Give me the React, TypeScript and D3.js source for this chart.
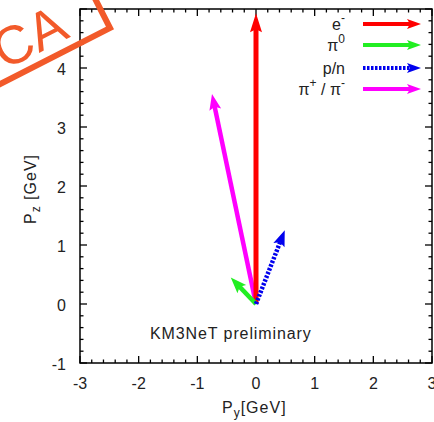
import React from "react";
import * as d3 from "d3";

const particleNames = ["e-", "pi0", "p/n", "pi+/pi-"];
const pyValues = [0, -0.43, 0.49, -0.75];
const pzValues = [4.93, 0.45, 1.25, 3.56];
const particleColors = ["#ff0000", "#22ee22", "#0000ee", "#ff00ff"];
const particleDash = ["", "", "2.5,1.5", ""];
const xTicks = [-3, -2, -1, 0, 1, 2, 3];
const yTicks = [-1, 0, 1, 2, 3, 4];

const W = 434, H = 422;
const L = 80, R = 432, T = 9, B = 363;
const FONT = "'Liberation Sans', Arial, sans-serif";

function Arrow({ x1, y1, x2, y2, color, dash, width = 4.5, headLen = 18, headHalf = 6 }: any) {
  const dx = x2 - x1, dy = y2 - y1;
  const len = Math.sqrt(dx * dx + dy * dy);
  const ux = dx / len, uy = dy / len;
  const bx = x2 - ux * headLen, by = y2 - uy * headLen;
  const px = -uy, py = ux;
  const pts = [
    [x2, y2],
    [bx + px * headHalf, by + py * headHalf],
    [bx + ux * 3, by + uy * 3],
    [bx - px * headHalf, by - py * headHalf],
  ];
  return (
    <g>
      <line x1={x1} y1={y1} x2={bx + ux * 4} y2={by + uy * 4} stroke={color} strokeWidth={width} strokeDasharray={dash || undefined} />
      <polygon points={pts.map((p) => p.join(",")).join(" ")} fill={color} />
    </g>
  );
}

export default function App() {
  const x = d3.scaleLinear().domain([-3, 3]).range([L, R]);
  const y = d3.scaleLinear().domain([-1, 5]).range([B, T]);
  const xMinor = d3.range(-3, 3.001, 0.2);
  const yMinor = d3.range(-1, 5.001, 0.2);
  const isMajor = (v: number) => Math.abs(v - Math.round(v)) < 1e-6;

  const legendRows = [24, 45, 68, 89];
  const legendLabels = [
    <tspan key="a">e<tspan dy="-8" fontSize="12">-</tspan></tspan>,
    <tspan key="b">π<tspan dy="-8" fontSize="12">0</tspan></tspan>,
    <tspan key="c">p/n</tspan>,
    <tspan key="d">π<tspan dy="-8" fontSize="12">+</tspan><tspan dy="8"> / π</tspan><tspan dy="-8" fontSize="12">-</tspan></tspan>,
  ];
  const order = [3, 0, 1, 2];

  return (
    <svg width={W} height={H} style={{ position: "absolute", left: 0, top: 0, background: "#fff" }} fontFamily={FONT}>
      <rect x={0} y={0} width={W} height={H} fill="#fff" />
      {xMinor.map((v, i) => {
        const len = isMajor(v) ? 7 : 3.5;
        return (
          <g key={"xt" + i} stroke="#000" strokeWidth={1.3}>
            <line x1={x(v)} x2={x(v)} y1={B} y2={B - len} />
            <line x1={x(v)} x2={x(v)} y1={T} y2={T + len} />
          </g>
        );
      })}
      {yMinor.map((v, i) => {
        const len = isMajor(v) ? 7 : 3.5;
        return (
          <g key={"yt" + i} stroke="#000" strokeWidth={1.3}>
            <line x1={L} x2={L + len} y1={y(v)} y2={y(v)} />
            <line x1={R} x2={R - len} y1={y(v)} y2={y(v)} />
          </g>
        );
      })}
      <rect x={L} y={T} width={R - L} height={B - T} fill="none" stroke="#000" strokeWidth={1.5} />
      {xTicks.map((v) => (
        <text key={"xl" + v} x={x(v)} y={389} textAnchor="middle" fontSize={16} fill="#222">{v}</text>
      ))}
      {yTicks.map((v) => (
        <text key={"yl" + v} x={66} y={y(v) + 7} textAnchor="end" fontSize={16} fill="#222">{v}</text>
      ))}
      <text x={222} y={413} fontSize={16} letterSpacing={1} fill="#222">P<tspan dy="4" fontSize="12">y</tspan><tspan dy="-4">[GeV]</tspan></text>
      <text transform="translate(36,189) rotate(-90)" textAnchor="middle" fontSize={16} letterSpacing={1} fill="#222">P<tspan dy="4" fontSize="12">z</tspan><tspan dy="-4"> [GeV]</tspan></text>
      <text x={150} y={339} fontSize={16} letterSpacing={0.9} fill="#222">KM3NeT preliminary</text>

      {order.map((i) => (
        <Arrow key={"ar" + i} x1={x(0)} y1={y(0)} x2={x(pyValues[i])} y2={y(pzValues[i])}
          color={particleColors[i]} dash={particleDash[i]}
          width={i === 0 ? 5 : 4.5} headLen={i === 0 ? 19 : 16} headHalf={6} />
      ))}

      {particleNames.map((name, i) => (
        <g key={"lg" + i}>
          <text x={345} y={legendRows[i] + 6} textAnchor="end" fontSize={16} fill="#222">{legendLabels[i]}</text>
          <Arrow x1={363} y1={legendRows[i]} x2={421} y2={legendRows[i]} color={particleColors[i]}
            dash={particleDash[i]} width={4} headLen={14} headHalf={5} />
        </g>
      ))}

      <g transform="translate(110,28) rotate(-27)">
        <rect x={-220} y={-85} width={220} height={85} fill="none" stroke="#f25a2a" strokeWidth={6} />
        <text x={-76} y={-10} textAnchor="middle" fontSize={54} fill="#f25a2a" fontFamily={FONT}>CA</text>
      </g>
    </svg>
  );
}
